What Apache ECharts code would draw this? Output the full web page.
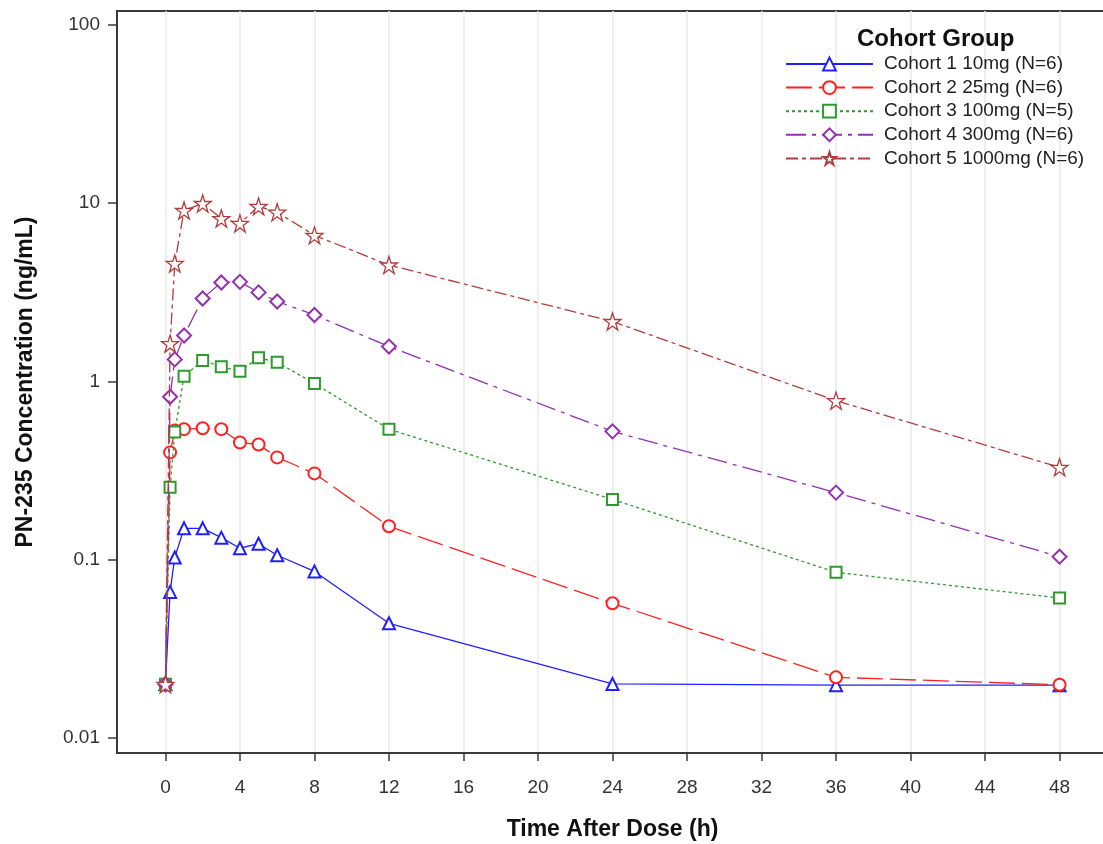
<!DOCTYPE html>
<html>
<head>
<meta charset="utf-8">
<title>PN-235 Concentration by Cohort</title>
<script src="https://cdn.jsdelivr.net/npm/echarts@6/dist/echarts.min.js"></script>
<style>
  html, body { margin: 0; padding: 0; background: #fff; }
  #chart { width: 1103px; height: 844px; }
</style>
</head>
<body>
<div id="chart"></div>
<script>
// Sampling times (h) and mean concentrations (ng/mL) per cohort
const times = [0, 0.25, 0.5, 1, 2, 3, 4, 5, 6, 8, 12, 24, 36, 48];
const cohort1 = [0.02, 0.066, 0.103, 0.150, 0.150, 0.133, 0.116, 0.123, 0.106, 0.086, 0.044, 0.0201, 0.0198, 0.0198];
const cohort2 = [0.02, 0.40, 0.53, 0.54, 0.546, 0.54, 0.455, 0.443, 0.375, 0.305, 0.154, 0.057, 0.0219, 0.0199];
const cohort3 = [0.02, 0.255, 0.52, 1.07, 1.31, 1.21, 1.14, 1.36, 1.28, 0.975, 0.54, 0.218, 0.085, 0.061];
const cohort4 = [0.02, 0.82, 1.33, 1.81, 2.92, 3.59, 3.62, 3.16, 2.81, 2.36, 1.57, 0.525, 0.238, 0.104];
const cohort5 = [0.02, 1.63, 4.59, 9.1, 9.96, 8.2, 7.7, 9.6, 8.9, 6.6, 4.5, 2.17, 0.78, 0.33];

const cohortNames = [
  'Cohort 1 10mg (N=6)',
  'Cohort 2 25mg (N=6)',
  'Cohort 3 100mg (N=5)',
  'Cohort 4 300mg (N=6)',
  'Cohort 5 1000mg (N=6)'
];
const xTicks = [0, 4, 8, 12, 16, 20, 24, 28, 32, 36, 40, 44, 48];
const yTicks = [0.01, 0.1, 1, 10, 100];

const starPath = 'path://M50,2 L61.2,36.2 L97,36.2 L68,57.4 L79,91.5 L50,70.4 L21,91.5 L32,57.4 L3,36.2 L38.8,36.2 Z';

const styles = [
  { color: '#2020ff', symbol: 'emptyTriangle', size: 12, dash: 'solid' },
  { color: '#ff2020', symbol: 'emptyCircle', size: 12, dash: [26, 7] },
  { color: '#2e9a2e', symbol: 'emptyRect', size: 11, dash: [3, 3] },
  { color: '#9430b0', symbol: 'emptyDiamond', size: 14, dash: [20, 6, 4, 6] },
  { color: '#b23c3c', symbol: starPath, size: 17, dash: [12, 4, 4, 4] }
];

const allData = [cohort1, cohort2, cohort3, cohort4, cohort5];

// concentration is plotted on a log10 scale
const toLog = v => Math.log10(v);

const series = allData.map((vals, i) => {
  const st = styles[i];
  const isPath = st.symbol.indexOf('path://') === 0;
  return {
    name: cohortNames[i],
    type: 'line',
    data: times.map((t, k) => [t, toLog(vals[k])]),
    symbol: st.symbol,
    symbolSize: st.size,
    showAllSymbol: true,
    lineStyle: { color: st.color, width: 1.3, type: st.dash },
    itemStyle: isPath
      ? { color: 'rgba(255,255,255,0.9)', borderColor: st.color, borderWidth: 1.3 }
      : { color: st.color, borderWidth: 1.3 },
    emphasis: { disabled: true },
    z: 2 + i
  };
});

const chart = echarts.init(document.getElementById('chart'), null, { renderer: 'canvas' });

chart.setOption({
  animation: false,
  backgroundColor: '#ffffff',
  textStyle: { fontFamily: 'Liberation Sans, Arial, sans-serif' },
  title: {
    text: 'Cohort Group',
    left: 852,
    top: 22,
    textStyle: { fontFamily: 'Liberation Sans, Arial, sans-serif', fontWeight: 'bold', fontSize: 24, color: '#111' }
  },
  legend: {
    orient: 'vertical',
    left: 780,
    top: 49,
    itemWidth: 87,
    itemHeight: 16,
    itemGap: 3.6,
    data: cohortNames,
    selectedMode: false,
    textStyle: {
      fontFamily: 'Liberation Sans, Arial, sans-serif',
      fontSize: 19,
      color: '#222',
      lineHeight: 20,
      padding: [0, 0, 0, 6]
    }
  },
  grid: {
    left: 117,
    right: -5,
    top: 11,
    bottom: 91,
    show: true,
    borderColor: '#3a3a3a',
    borderWidth: 2,
    backgroundColor: 'transparent',
    containLabel: false,
    outerBoundsMode: 'none'
  },
  xAxis: {
    type: 'value',
    min: -2.6,
    max: 50.6,
    name: 'Time After Dose (h)',
    nameLocation: 'middle',
    nameGap: 65,
    nameTextStyle: { fontFamily: 'Liberation Sans, Arial, sans-serif', fontWeight: 'bold', fontSize: 23, color: '#111' },
    axisLine: { show: true, onZero: false, lineStyle: { color: '#3a3a3a', width: 2 } },
    axisTick: { show: true, length: 8, customValues: xTicks, lineStyle: { color: '#3a3a3a', width: 1.5 } },
    axisLabel: { customValues: xTicks, margin: 25, fontSize: 19, color: '#333', fontFamily: 'Liberation Sans, Arial, sans-serif' },
    splitLine: { show: true, lineStyle: { color: '#e8e8e8', width: 1.5 } }
  },
  yAxis: {
    type: 'value',
    min: -2.084,
    max: 2.078,
    name: 'PN-235 Concentration (ng/mL)',
    nameLocation: 'middle',
    nameGap: 80,
    nameTextStyle: { fontFamily: 'Liberation Sans, Arial, sans-serif', fontWeight: 'bold', fontSize: 23, color: '#111' },
    axisLine: { show: true, onZero: false, lineStyle: { color: '#3a3a3a', width: 2 } },
    axisTick: { show: true, length: 9, customValues: yTicks.map(toLog), lineStyle: { color: '#3a3a3a', width: 1.5 } },
    axisLabel: {
      customValues: yTicks.map(toLog),
      margin: 17,
      fontSize: 19,
      color: '#333',
      fontFamily: 'Liberation Sans, Arial, sans-serif',
      formatter: v => String(parseFloat(Math.pow(10, v).toPrecision(3)))
    },
    splitLine: { show: false }
  },
  series: series
});
</script>
</body>
</html>
